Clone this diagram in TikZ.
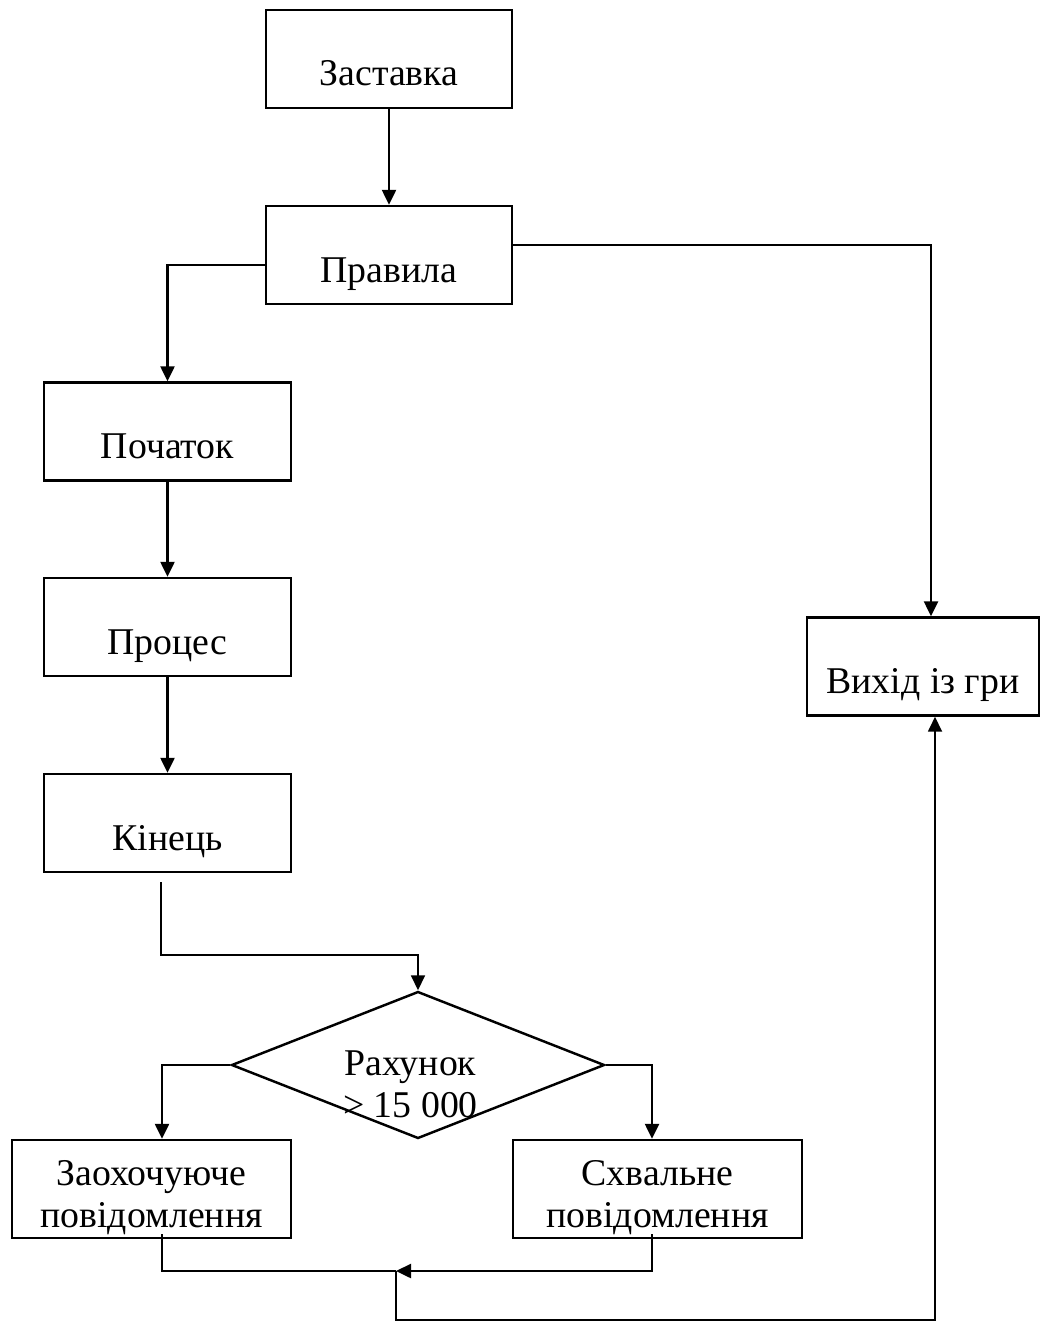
\documentclass[tikz,border=0pt]{standalone}
\usepackage{fontspec}
\setmainfont{Liberation Serif}
\usetikzlibrary{arrows.meta,shapes.geometric}
\begin{document}
\begin{tikzpicture}[
  font=\fontsize{21.5}{24.4}\selectfont,
  box/.style={draw, line width=1.4pt, rectangle, inner sep=0pt, minimum width=4.93cm, text height=1.52cm, text depth=0.44cm},
  box2/.style={draw, line width=1.4pt, rectangle, inner sep=0pt, minimum height=1.96cm, text height=0.9cm, text depth=1.06cm},
  conn/.style={line width=1.4pt, -{Triangle[length=0.3cm,width=0.28cm]}},
  thinline/.style={line width=0.8pt},
]
\useasboundingbox (0,0) rectangle (20.82,-26.5);

\node[box] (zast) at (7.78,-1.18) {Заставка};
\node[box] (prav) at (7.78,-5.10) {Правила};
\node[box] (poch) at (3.35,-8.63) {Початок};
\node[box] (proc) at (3.35,-12.54) {Процес};
\node[box] (kin) at (3.35,-16.46) {Кінець};
\node[box, minimum width=4.64cm] (vyh) at (18.46,-13.33) {Вихід із гри};

\node[diamond, draw, line width=1.4pt, inner sep=0pt, minimum width=7.46cm, minimum height=2.94cm] (dia) at (8.36,-21.30)
  {\raisebox{-0.2cm}[0pt][0pt]{\makebox[0pt]{\hspace*{-0.3cm}\begin{tabular}[t]{@{}c@{}}Рахунок\\> 15 000\end{tabular}}}};

\node[box2, minimum width=5.58cm] (zaoch) at (3.03,-23.78)
  {\begin{tabular}[t]{@{}c@{}}Заохочуюче\\повідомлення\end{tabular}};
\node[box2, minimum width=5.78cm] (skhv) at (13.15,-23.78)
  {\begin{tabular}[t]{@{}c@{}}Схвальне\\повідомлення\end{tabular}};

\draw[conn] (zast.south) -- (prav.north);
\draw[conn] ([yshift=-0.2cm]prav.west) -| (poch.north);
\draw[conn] ([yshift=0.2cm]prav.east) -| ([xshift=0.16cm]vyh.north);
\draw[conn] (poch.south) -- (proc.north);
\draw[conn] (proc.south) -- (kin.north);
\draw[conn, line width=1pt] ([xshift=-0.13cm,yshift=-0.18cm]kin.south) -- ++(0,-1.46) -| (dia.north);
\draw[conn] (dia.west) -| ([xshift=0.21cm]zaoch.north);
\draw[conn] (dia.east) -| ([xshift=-0.11cm]skhv.north);

\coordinate (m) at (7.92,-25.42);
\coordinate (b) at (7.92,-26.40);
\draw[thinline] ([xshift=0.21cm,yshift=0.1cm]zaoch.south) |- (m);
\draw[conn] ([xshift=-0.11cm,yshift=0.1cm]skhv.south) |- (m);
\draw[conn, line width=1pt] (m) -- (b) -| ([xshift=0.24cm]vyh.south);
\end{tikzpicture}
\end{document}
